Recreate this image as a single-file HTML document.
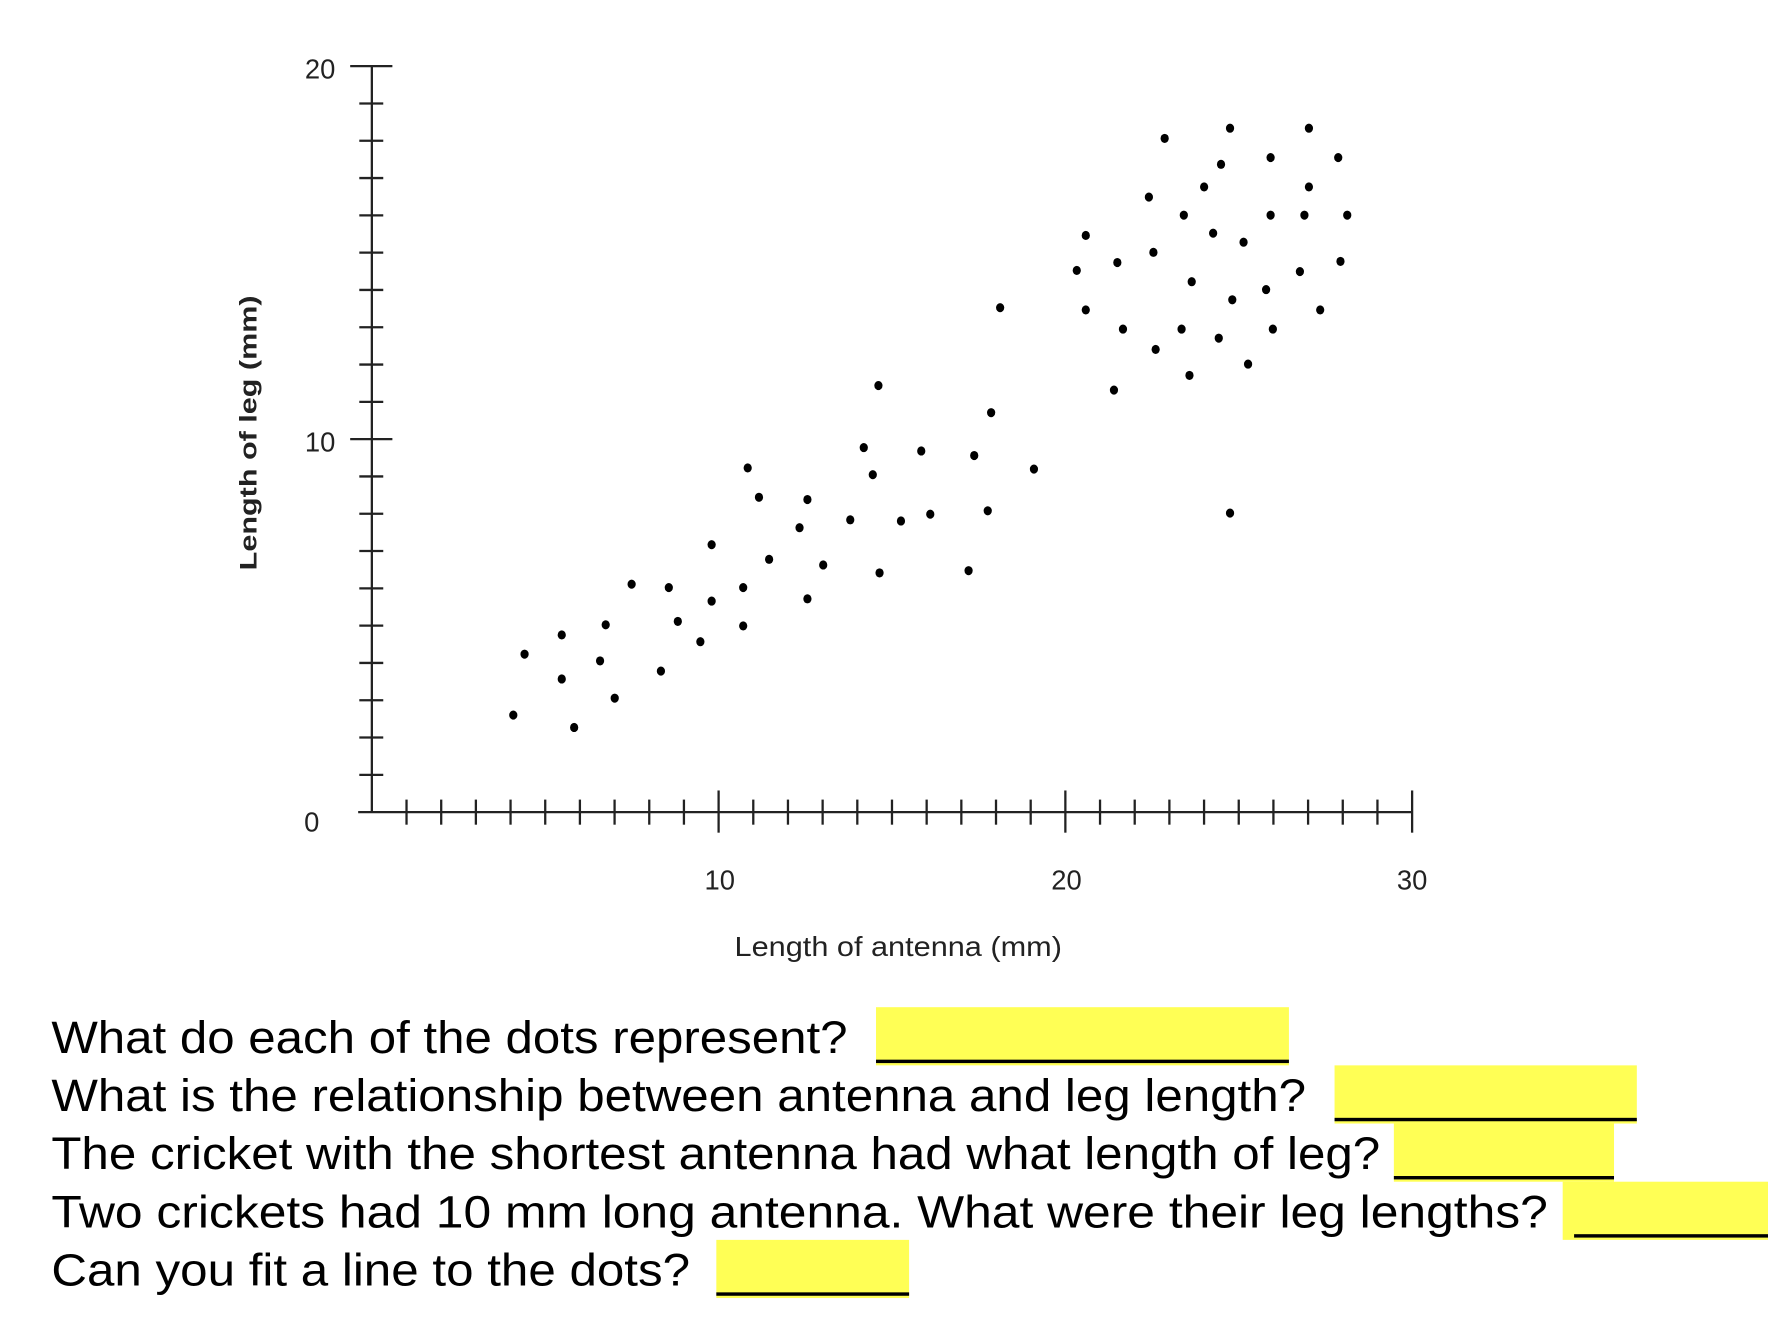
<!DOCTYPE html>
<html><head><meta charset="utf-8"><style>
html,body{margin:0;padding:0;background:#fff;}
svg{display:block;}
</style></head><body>
<svg width="1768" height="1320" viewBox="0 0 1550 1157.24" preserveAspectRatio="none" xmlns="http://www.w3.org/2000/svg">
<rect width="1550" height="1158" fill="#fff"/>
<g stroke="#222" stroke-width="2" fill="none">
<line x1="326" y1="58" x2="326" y2="712"/>
<line x1="314" y1="712" x2="1238" y2="712"/>
<line x1="307" y1="58" x2="344" y2="58"/>
<line x1="307" y1="385" x2="344" y2="385"/>
<g id="yt"></g>
<g id="xt"></g>
</g>
<g font-family="Liberation Sans, sans-serif" fill="#222">
<text x="294" y="69" font-size="24" text-anchor="end">20</text>
<text x="294" y="396" font-size="24" text-anchor="end">10</text>
<text x="280" y="729" font-size="24" text-anchor="end">0</text>
<text x="631" y="780" font-size="24" text-anchor="middle">10</text>
<text x="935" y="780" font-size="24" text-anchor="middle">20</text>
<text x="1238" y="780" font-size="24" text-anchor="middle">30</text>
<text x="644" y="838" font-size="24" textLength="287" lengthAdjust="spacingAndGlyphs">Length of antenna (mm)</text>
<text transform="translate(225,500) rotate(-90)" font-size="21" font-weight="bold" textLength="241" lengthAdjust="spacingAndGlyphs">Length of leg (mm)</text>
</g>
<g id="dots" fill="#000"></g>
<g fill="#ffff55">
<rect x="768" y="883" width="362" height="51"/>
<rect x="1170" y="934" width="265" height="51"/>
<rect x="1222" y="985" width="193" height="51"/>
<rect x="1370" y="1036" width="180" height="51"/>
<rect x="628" y="1087" width="169" height="51"/>
</g>
<g fill="#000">
<rect x="768" y="929" width="362" height="3"/>
<rect x="1170" y="980" width="265" height="3"/>
<rect x="1222" y="1031" width="193" height="3"/>
<rect x="1380" y="1082" width="170" height="3"/>
<rect x="628" y="1133" width="169" height="3"/>
</g>
<g font-family="Liberation Sans, Arial, sans-serif" font-size="40" fill="#000">
<text x="45" y="923" textLength="698" lengthAdjust="spacingAndGlyphs">What do each of the dots represent?</text>
<text x="45" y="974" textLength="1100" lengthAdjust="spacingAndGlyphs">What is the relationship between antenna and leg length?</text>
<text x="45" y="1025" textLength="1165" lengthAdjust="spacingAndGlyphs">The cricket with the shortest antenna had what length of leg?</text>
<text x="45" y="1076" textLength="1312" lengthAdjust="spacingAndGlyphs">Two crickets had 10 mm long antenna.  What were their leg lengths?</text>
<text x="45" y="1127" textLength="560" lengthAdjust="spacingAndGlyphs">Can you fit a line to the dots?</text>
</g>
<script>
var ns="http://www.w3.org/2000/svg";
var yt=document.getElementById("yt"),xt=document.getElementById("xt"),d=document.getElementById("dots");
function L(g,a,b,c,e){var l=document.createElementNS(ns,"line");l.setAttribute("x1",a);l.setAttribute("y1",b);l.setAttribute("x2",c);l.setAttribute("y2",e);g.appendChild(l);}
for(var i=1;i<20;i++){if(i==10)continue;var y=712-i*32.7;L(yt,315,y,336,y);}
for(var i=1;i<=30;i++){var x=326+i*30.4;if(i%10==0)L(xt,x,693,x,730);else L(xt,x,701,x,723);}
var P=[[454,634],[464,580],[497,563],[497,602],[508,645],[536,554],[531,586],[544,619],[559,518],[585,595],[592,521],[600,551],[620,569],[630,483],[630,533],[658,521],[658,555],[662,415],[672,441],[681,496],[708,468],[715,443],[715,531],[729,501],[753,461],[765,397],[773,421],[778,342],[779,508],[798,462],[816,400],[824,456],[858,506],[863,404],[875,453],[878,366],[886,273],[916,416],[954,240],[962,209],[962,275],[987,346],[990,233],[995,292],[1018,175],[1022,224],[1024,310],[1032,123],[1047,292],[1049,191],[1054,333],[1056,250],[1067,166],[1075,207],[1080,300],[1082,146],[1090,114],[1090,455],[1092,266],[1102,215],[1106,323],[1122,257],[1126,140],[1126,191],[1128,292],[1152,241],[1156,191],[1160,114],[1160,166],[1170,275],[1186,140],[1188,232],[1194,191]];
P.forEach(function(p){var c=document.createElementNS(ns,"ellipse");c.setAttribute("cx",450+(p[0]-454)*0.988);c.setAttribute("cy",58+(p[1]-59)*654/661);c.setAttribute("rx",3.6);c.setAttribute("ry",4);d.appendChild(c);});
</script>
</svg>
</body></html>
